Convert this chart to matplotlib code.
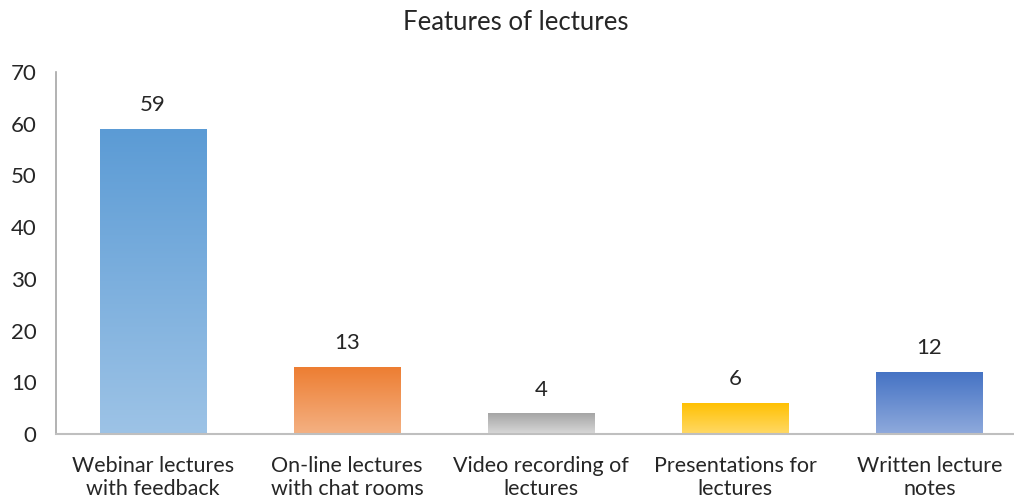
import numpy as np
import matplotlib.pyplot as plt
from matplotlib.colors import LinearSegmentedColormap

categories = ["Webinar lectures\nwith feedback", "On-line lectures\nwith chat rooms",
              "Video recording of\nlectures", "Presentations for\nlectures",
              "Written lecture\nnotes"]
values = [59, 13, 4, 6, 12]
top_colors = ["#5B9BD5", "#ED7D31", "#A5A5A5", "#FFC000", "#4472C4"]
bottom_colors = ["#9DC3E6", "#F4B183", "#D9D9D9", "#FFD966", "#8FAADC"]

plt.rcParams['font.family'] = ['Lato', 'DejaVu Sans']

fig = plt.figure(figsize=(10.14, 5.03), dpi=100)
ax = fig.add_axes([0.0552, 0.137, 0.957, 0.72])

x = np.arange(len(values))
bars = ax.bar(x, values, width=0.55, color="none", edgecolor="none")

# vertical gradient inside each bar, dark at the top
grad = np.linspace(0, 1, 256).reshape(-1, 1)
for bar, c_top, c_bot in zip(bars, top_colors, bottom_colors):
    cmap = LinearSegmentedColormap.from_list("g", [c_bot, c_top])
    x0, y0 = bar.get_x(), bar.get_y()
    w, h = bar.get_width(), bar.get_height()
    im = ax.imshow(grad, cmap=cmap, origin="lower", aspect="auto",
                   extent=[x0, x0 + w, y0, y0 + h], zorder=2)
    im.set_clip_path(bar)

for xi, v in zip(x, values):
    ax.annotate(f"{v}", (xi, v), xytext=(0, 10), textcoords="offset points",
                ha="center", va="bottom", fontsize=16, color="#262626")

ax.set_xlim(-0.5, len(values) - 0.5)
ax.set_ylim(0, 70)
ax.set_yticks(range(0, 71, 10))
ax.set_xticks(x)
ax.set_xticklabels(categories, fontsize=15.5, color="#262626", linespacing=1.15)
ax.tick_params(axis="y", length=0, labelsize=16, labelcolor="#262626", pad=14)
ax.tick_params(axis="x", length=0, pad=16)

for side in ("top", "right"):
    ax.spines[side].set_visible(False)
ax.spines["left"].set_color("#A6A6A6")
ax.spines["bottom"].set_color("#BFBFBF")
ax.spines["left"].set_linewidth(1.2)
ax.spines["bottom"].set_linewidth(1.5)

fig.text(0.509, 0.955, "Features of lectures", ha="center", va="center",
         fontsize=18.5, color="#262626")

fig.savefig("out.png", dpi=100)
